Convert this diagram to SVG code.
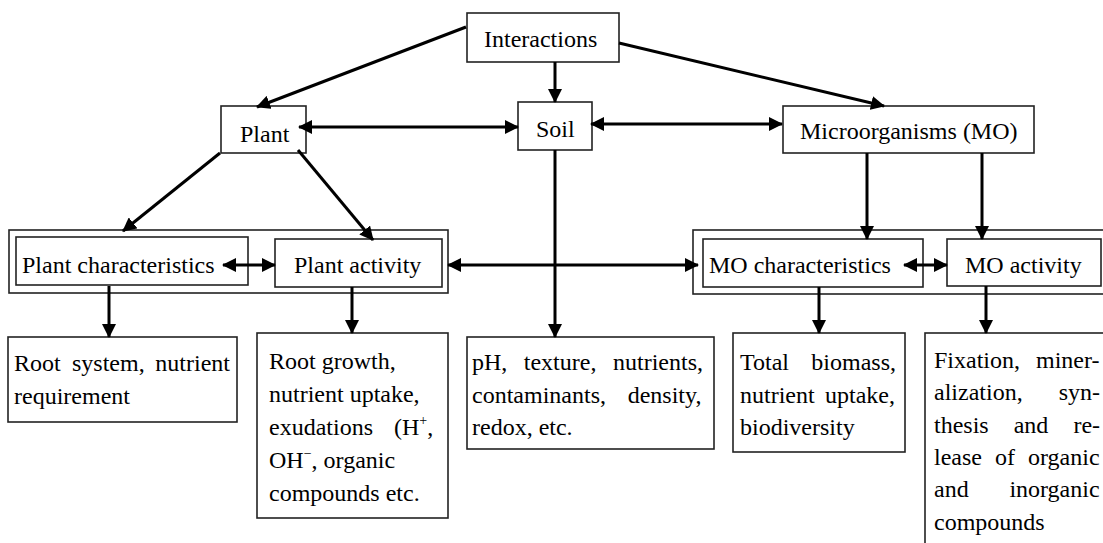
<svg xmlns="http://www.w3.org/2000/svg" width="1103" height="543" viewBox="0 0 1103 543" font-family="'Liberation Serif', 'Times New Roman', 'DejaVu Serif', serif">
<style>
.box{fill:#fff;stroke:#222;stroke-width:1.6}
text{font-family:'Liberation Serif','Times New Roman','DejaVu Serif',serif;font-size:24px;fill:#000}
.sup{font-size:14px}
.c{stroke:#000;stroke-width:3;fill:none;marker-end:url(#ah)}
.d{stroke:#000;stroke-width:3;fill:none;marker-end:url(#ah);marker-start:url(#ah)}
</style>
<defs>
<marker id="ah" markerUnits="userSpaceOnUse" markerWidth="14" markerHeight="14" viewBox="0 0 14 14" refX="13" refY="7" orient="auto-start-reverse">
<path d="M0,0 L14,7 L0,14 z" fill="#000"/>
</marker>
</defs>
<rect width="1103" height="543" fill="#fff"/>

<g id="group-plant-outer"><rect class="box" x="9" y="230" width="439" height="63"/></g>
<g id="group-mo-outer"><rect class="box" x="693" y="230" width="420" height="64"/></g>

<g id="interactions"><rect class="box" x="467" y="13" width="152" height="49"/><text x="484" y="47">Interactions</text></g>
<g id="plant"><rect class="box" x="221" y="106" width="85" height="47"/><text x="240" y="142">Plant</text></g>
<g id="soil"><rect class="box" x="518" y="102" width="74" height="48"/><text x="536" y="137">Soil</text></g>
<g id="mo"><rect class="box" x="783" y="106" width="251" height="47"/><text x="800" y="139">Microorganisms (MO)</text></g>

<g id="plant-characteristics"><rect class="box" x="16" y="237" width="232" height="48"/><text x="22" y="273">Plant characteristics</text></g>
<g id="plant-activity"><rect class="box" x="275" y="239" width="167" height="48"/><text x="294" y="273">Plant activity</text></g>
<g id="mo-characteristics"><rect class="box" x="703" y="239" width="220" height="48"/><text x="709" y="273">MO characteristics</text></g>
<g id="mo-activity"><rect class="box" x="947" y="239" width="154" height="47"/><text x="965" y="273">MO activity</text></g>

<g id="root-system"><rect class="box" x="8" y="337" width="229" height="85"/>
<text y="371"><tspan x="14">Root</tspan><tspan x="72">system,</tspan><tspan x="155.3">nutrient</tspan></text>
<text x="14" y="404">requirement</text></g>

<g id="root-growth"><rect class="box" x="257" y="333" width="191" height="185"/>
<text x="269" y="369">Root growth,</text>
<text x="269" y="402">nutrient uptake,</text>
<text y="435"><tspan x="269">exudations</tspan><tspan x="394">(H</tspan><tspan class="sup" dy="-10">+</tspan><tspan dy="10">,</tspan></text>
<text x="269" y="468">OH<tspan class="sup" dy="-10">−</tspan><tspan dy="10">, organic</tspan></text>
<text x="269" y="501">compounds etc.</text></g>

<g id="soil-properties"><rect class="box" x="467" y="337" width="247" height="112"/>
<text y="370"><tspan x="472">pH,</tspan><tspan x="523.8">texture,</tspan><tspan x="613">nutrients,</tspan></text>
<text y="403"><tspan x="472">contaminants,</tspan><tspan x="627.7">density,</tspan></text>
<text x="472" y="435">redox, etc.</text></g>

<g id="total-biomass"><rect class="box" x="733" y="333" width="172" height="119"/>
<text y="370"><tspan x="740">Total</tspan><tspan x="811.3">biomass,</tspan></text>
<text y="403"><tspan x="740">nutrient</tspan><tspan x="825">uptake,</tspan></text>
<text x="740" y="435">biodiversity</text></g>

<g id="fixation"><rect class="box" x="925" y="333" width="190" height="230"/>
<text y="368"><tspan x="934">Fixation,</tspan><tspan x="1036">miner-</tspan></text>
<text y="400"><tspan x="934">alization,</tspan><tspan x="1058.7">syn-</tspan></text>
<text y="432.5"><tspan x="934">thesis</tspan><tspan x="1013.7">and</tspan><tspan x="1073.4">re-</tspan></text>
<text y="465"><tspan x="934">lease</tspan><tspan x="995">of</tspan><tspan x="1028">organic</tspan></text>
<text y="497"><tspan x="934">and</tspan><tspan x="1009.4">inorganic</tspan></text>
<text x="934" y="529.5">compounds</text></g>

<g id="connectors">
<path class="c" d="M466,27 L257,107"/>
<path class="c" d="M555,62 L555,102"/>
<path class="c" d="M619,43 L884,106"/>
<path class="d" d="M299,127 L518,127"/>
<path class="d" d="M591,124 L782,124"/>
<path class="c" d="M220,153 L123,231"/>
<path class="c" d="M298,150 L373,240"/>
<path class="d" d="M223,265 L275,265"/>
<path class="c" d="M555,150 L555,337"/>
<path class="d" d="M448,265 L698,265"/>
<path class="c" d="M867,153 L867,239"/>
<path class="c" d="M982,153 L982,239"/>
<path class="d" d="M904,265 L947,265"/>
<path class="c" d="M109,286 L109,337"/>
<path class="c" d="M352,287 L352,333"/>
<path class="c" d="M819,287 L819,333"/>
<path class="c" d="M986,286 L986,333"/>
</g>
</svg>
